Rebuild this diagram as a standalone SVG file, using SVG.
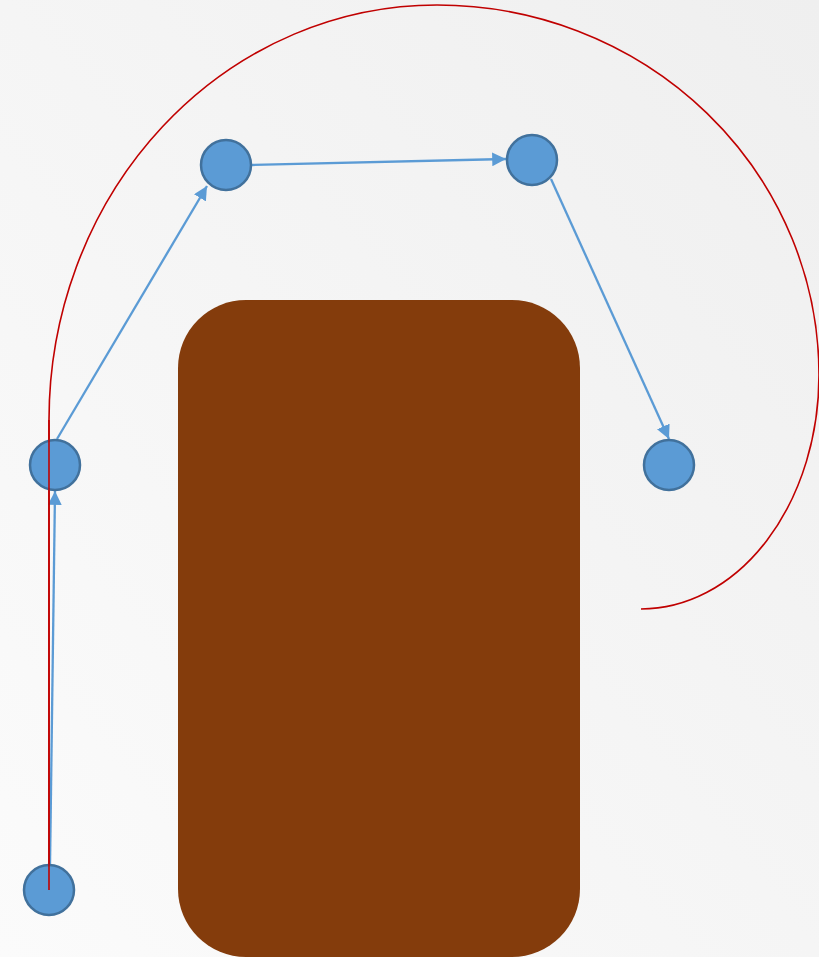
<svg xmlns="http://www.w3.org/2000/svg" width="819" height="957" viewBox="0 0 819 957">
<defs>
<linearGradient id="bg" x1="0" y1="1" x2="1" y2="0">
<stop offset="0" stop-color="#fbfbfb"/>
<stop offset="1" stop-color="#efefef"/>
</linearGradient>
<marker id="arr" viewBox="0 0 10 10" refX="10" refY="5" markerWidth="6" markerHeight="6" markerUnits="strokeWidth" orient="auto">
<path d="M0,0 L10,5 L0,10 z" fill="#5b9bd5"/>
</marker>
<style>
.node{fill:#5b9bd5;stroke:#41719c;stroke-width:2.5}
.edge{fill:none;stroke:#5b9bd5;stroke-width:2.3;marker-end:url(#arr)}
.red{fill:none;stroke:#c00000;stroke-width:1.6}
</style>
</defs>
<rect x="0" y="0" width="819" height="957" fill="url(#bg)"/>
<rect id="block" x="178" y="300" width="402" height="657" rx="68" ry="68" fill="#843c0c"/>
<g id="connectors">
<line class="edge" x1="50" y1="866" x2="55" y2="491"/>
<line class="edge" x1="57" y1="439" x2="207" y2="186"/>
<line class="edge" x1="252" y1="165" x2="506" y2="159"/>
<line class="edge" x1="551" y1="179" x2="669" y2="439"/>
<path class="red" d="M49,890 L49,420 A388,415 0 0 1 437,5 A382,370 0 0 1 819,375 A178,234 0 0 1 641,609"/>
</g>
<g id="n1"><circle class="node" cx="49" cy="890" r="25"/></g>
<g id="n2"><circle class="node" cx="55" cy="465" r="25"/></g>
<g id="n3"><circle class="node" cx="226" cy="165" r="25"/></g>
<g id="n4"><circle class="node" cx="532" cy="160" r="25"/></g>
<g id="n5"><circle class="node" cx="669" cy="465" r="25"/></g>
<path class="red" d="M49,890 L49,420"/>
</svg>
